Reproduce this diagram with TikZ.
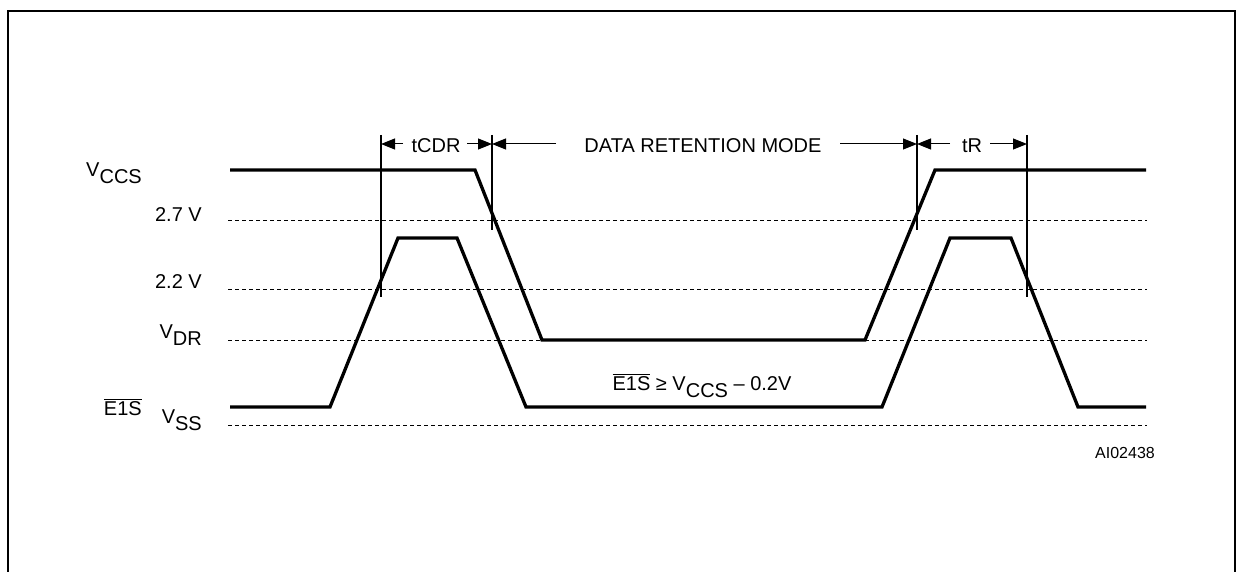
\documentclass[tikz,border=0pt]{standalone}
\usepackage{fontspec}
\setmainfont{Liberation Sans}
\usetikzlibrary{arrows.meta}
\newcommand\lowsub[1]{\raisebox{-7pt}{#1}}
\begin{document}
\begin{tikzpicture}[x=1pt,y=-1pt,
  wave/.style={line width=3.3pt, line join=miter},
  level/.style={line width=1pt, dash pattern=on 4pt off 3pt},
  marker/.style={line width=1.1pt},
  dim/.style={line width=1pt, -{Triangle[length=14pt,width=11pt]}},
  lbl/.style={font=\fontsize{20}{23}\selectfont, inner sep=0pt},
  small/.style={font=\fontsize{16}{19}\selectfont, inner sep=0pt}]
\useasboundingbox (0,0) rectangle (1239,572);
% frame
\draw[line width=2pt] (8,580) -- (8,11) -- (1235,11) -- (1235,580);
% levels
\foreach \y in {220,289,340,425} \draw[level] (228,\y) -- (1147,\y);
% waveforms
\draw[wave] (230,170) -- (475,170) -- (542,340) -- (865,340) -- (935,170) -- (1146,170);
\draw[wave] (230,407) -- (330,407) -- (398,238) -- (457,238) -- (526,407) -- (882,407)
  -- (950,238) -- (1011,238) -- (1078,407) -- (1146,407);
% timing markers
\coordinate (m1t) at (381,135); \coordinate (m1b) at (381,297);
\coordinate (m2t) at (492,135); \coordinate (m2b) at (492,230);
\coordinate (m3t) at (917,135); \coordinate (m3b) at (917,230);
\coordinate (m4t) at (1027,135); \coordinate (m4b) at (1027,297);
\draw[marker] (m1t) -- (m1b);
\draw[marker] (m2t) -- (m2b);
\draw[marker] (m3t) -- (m3b);
\draw[marker] (m4t) -- (m4b);
\coordinate (a1) at (381,144);
\coordinate (a2) at (492,144);
\coordinate (a3) at (917,144);
\coordinate (a4) at (1027,144);
% dimension labels
\node[lbl, anchor=base] (tcdr) at (436,153) {tCDR};
\node[lbl, anchor=base] (drm) at (703,153) {DATA RETENTION MODE};
\node[lbl, anchor=base] (tr) at (972,153) {tR};
\coordinate (d1) at (403,144); \coordinate (d2) at (467,144);
\coordinate (d3) at (556,144); \coordinate (d4) at (840,144);
\coordinate (d5) at (950,144); \coordinate (d6) at (990,144);
\draw[dim] (d1) -- (a1);
\draw[dim] (d2) -- (a2);
\draw[dim] (d3) -- (a2);
\draw[dim] (d4) -- (a3);
\draw[dim] (d5) -- (a3);
\draw[dim] (d6) -- (a4);
% level labels
\node[lbl, anchor=base east] (vccs) at (142,177) {V\lowsub{CCS}};
\node[lbl, anchor=base east] (l27) at (202,222) {2.7 V};
\node[lbl, anchor=base east] (l22) at (202,288) {2.2 V};
\node[lbl, anchor=base east] (vdr) at (202,338) {V\lowsub{DR}};
\node[lbl, anchor=base east] (e1s) at (142,415) {$\overline{\mbox{E1S}}$};
\node[lbl, anchor=base east] (vss) at (202,423) {V\lowsub{SS}};
\node[lbl, anchor=base] (cond) at (702,390) {$\overline{\mbox{E1S}}$ ≥ V\lowsub{CCS} – 0.2V};
\node[small, anchor=base west] (id) at (1095,458) {AI02438};
\end{tikzpicture}
\end{document}
